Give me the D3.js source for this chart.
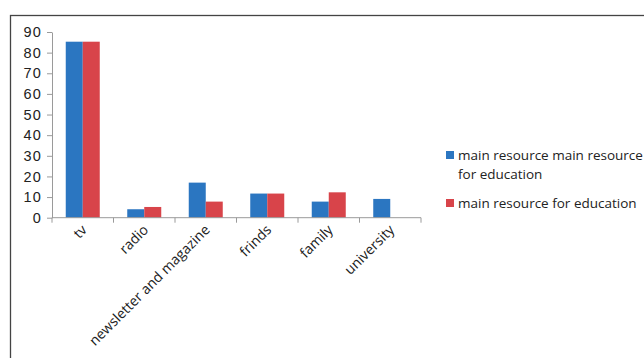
<!DOCTYPE html>
<html>
<head>
<meta charset="utf-8">
<title>main resource for education</title>
<script src="https://cdnjs.cloudflare.com/ajax/libs/d3/7.8.5/d3.min.js"></script>
<style>
    body { margin: 0; background: #fff; }
    svg { display: block; font-family: "Open Sans", sans-serif; }
    .axis path, .axis line { stroke: #9a9a9a; }
    .axis text { fill: #222; font-size: 14px; }
    .yaxis text { font-size: 14.5px; letter-spacing: 1.2px; }
</style>
</head>
<body>
<svg width="644" height="358"></svg>
<script>
    // data
    const categories = ["tv", "radio", "newsletter and magazine", "frinds", "family", "university"];
    const seriesNames = ["main resource main resource for education", "main resource for education"];
    const blueValues = [85.3, 4.1, 17, 11.7, 7.8, 9.1];
    const redValues = [85.3, 5.2, 7.8, 11.7, 12.3, 0];
    const yTicks = [0, 10, 20, 30, 40, 50, 60, 70, 80, 90];
    const colors = ["#2b76c1", "#d8444a"];

    const svg = d3.select("svg");

    // outer frame (only top and left edges are visible in the picture)
    svg.append("rect")
        .attr("x", 10.5).attr("y", 15.5)
        .attr("width", 700).attr("height", 400)
        .attr("fill", "none").attr("stroke", "#444").attr("stroke-width", 1.3);

    const margin = {left: 52, top: 32, right: 223},
        plotW = 421 - margin.left,
        plotH = 217.7 - margin.top;

    const x = d3.scaleBand().domain(categories).range([0, plotW]);
    const xs = d3.scaleBand().domain([0, 1]).range([0, 34]);
    const y = d3.scaleLinear().domain([0, 90]).range([plotH, 0]);

    const g = svg.append("g").attr("transform", `translate(${margin.left},${margin.top})`);

    const rows = categories.map((c, i) => ({cat: c, vals: [blueValues[i], redValues[i]]}));

    const grp = g.selectAll(".grp").data(rows).enter().append("g")
        .attr("transform", d => `translate(${x(d.cat) + x.bandwidth() / 2 - 17},0)`);

    grp.selectAll("rect")
        .data(d => d.vals.map((v, k) => ({v, k})).filter(e => e.v > 0))
        .enter().append("rect")
        .attr("x", d => xs(d.k))
        .attr("width", xs.bandwidth())
        .attr("y", d => y(d.v))
        .attr("height", d => plotH - y(d.v))
        .attr("fill", d => colors[d.k]);

    // y axis
    g.append("g").attr("class", "axis yaxis")
        .call(d3.axisLeft(y).tickValues(yTicks).tickSize(5).tickSizeOuter(0).tickPadding(5));

    // x axis: ticks at band boundaries
    const xAxis = g.append("g").attr("class", "axis")
        .attr("transform", `translate(0,${plotH})`);
    xAxis.append("line").attr("x1", 0).attr("x2", plotW).attr("stroke", "#9a9a9a");
    xAxis.selectAll(".tk").data(d3.range(categories.length + 1)).enter().append("line")
        .attr("x1", i => i * x.step()).attr("x2", i => i * x.step())
        .attr("y1", 0).attr("y2", 5).attr("stroke", "#9a9a9a");
    xAxis.selectAll(".lbl").data(categories).enter().append("text")
        .attr("text-anchor", "end")
        .attr("transform", d => `translate(${x(d) + x.bandwidth() / 2 + 5},${13}) rotate(-45)`)
        .attr("font-size", 14).attr("fill", "#222")
        .text(d => d);

    // legend
    const leg = svg.append("g").attr("transform", "translate(446,0)");
    const legendRows = [
        {k: 0, lines: ["main resource main resource", "for education"], y: 155},
        {k: 1, lines: ["main resource for education"], y: 203}
    ];
    legendRows.forEach(r => {
        leg.append("rect").attr("x", 0).attr("y", r.y - 4).attr("width", 8).attr("height", 8)
            .attr("fill", colors[r.k]);
        r.lines.forEach((t, j) => {
            leg.append("text").attr("x", 12).attr("y", r.y + 5 + j * 19)
                .attr("font-size", 13.5).attr("fill", "#222").text(t);
        });
    });
</script>
</body>
</html>
